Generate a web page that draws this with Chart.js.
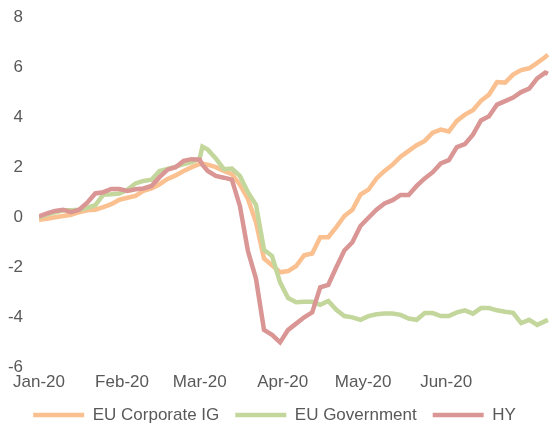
<!DOCTYPE html>
<html>
<head>
<meta charset="utf-8">
<script src="https://cdn.jsdelivr.net/npm/chart.js@4.4.1/dist/chart.umd.min.js"></script>
<style>
  html, body { margin: 0; padding: 0; background: #fff; }
  #wrap { position: relative; width: 549px; height: 423px; }
</style>
</head>
<body>
<div id="wrap"><canvas id="chart"></canvas></div>
<script>
// days since 1 Jan 2020
const days = [0, 3, 6, 9, 12, 15, 18, 21, 24, 27, 30, 33, 36, 39, 42, 45, 48, 51, 54, 57, 60, 61,
  63, 66, 69, 72, 75, 78, 81, 84, 87, 90, 93, 96, 99, 102, 105, 108, 111, 114, 117, 120, 123, 126,
  129, 132, 135, 138, 141, 144, 147, 150, 153, 156, 159, 162, 165, 168, 171, 174, 177, 180, 183,
  186, 189, 190];

const corpIG = [-0.1, -0.06, 0.0, 0.05, 0.1, 0.2, 0.28, 0.3, 0.4, 0.52, 0.7, 0.78, 0.85, 1.05, 1.15,
  1.32, 1.53, 1.67, 1.85, 2.0, 2.13, 2.14,
  2.1, 2.0, 1.85, 1.72, 1.3, 0.73, -0.2, -1.65, -1.92, -2.2, -2.15, -1.95, -1.52, -1.45, -0.8, -0.8,
  -0.4, 0.05, 0.3, 0.9, 1.1, 1.55, 1.85, 2.1, 2.42, 2.65, 2.88, 3.05, 3.38, 3.5, 3.43, 3.85, 4.1,
  4.28, 4.65, 4.9, 5.4, 5.38, 5.7, 5.88, 5.95, 6.17, 6.4, 6.5];

const govt = [0.0, 0.1, 0.2, 0.28, 0.28, 0.3, 0.38, 0.48, 0.9, 0.92, 0.95, 1.1, 1.35, 1.45, 1.5,
  1.85, 1.93, 2.02, 2.12, 2.2, 2.35, 2.82,
  2.7, 2.35, 1.92, 1.94, 1.65, 1.0, 0.5, -1.3, -1.55, -2.6, -3.23, -3.4, -3.38, -3.38, -3.5, -3.35,
  -3.7, -3.95, -4.0, -4.1, -3.95, -3.88, -3.85, -3.85, -3.9, -4.05, -4.1, -3.83, -3.83, -3.95, -3.95,
  -3.8, -3.72, -3.85, -3.63, -3.63, -3.72, -3.78, -3.82, -4.23, -4.1, -4.3, -4.15, -4.1];

const hy = [0.03, 0.15, 0.25, 0.3, 0.2, 0.3, 0.58, 0.95, 1.0, 1.13, 1.13, 1.05, 1.12, 1.15, 1.25,
  1.6, 1.9, 2.0, 2.25, 2.32, 2.3, 2.1,
  1.85, 1.65, 1.58, 1.5, 0.45, -1.35, -2.45, -4.5, -4.7, -5.0, -4.5, -4.25, -4.0, -3.8, -2.8, -2.7,
  -2.0, -1.33, -1.0, -0.35, -0.02, 0.3, 0.55, 0.68, 0.89, 0.89, 1.25, 1.55, 1.8, 2.15, 2.28, 2.8,
  2.92, 3.3, 3.87, 4.03, 4.5, 4.64, 4.78, 5.0, 5.14, 5.55, 5.78, 5.73];

const monthStarts = [0, 31, 60, 91, 121, 152];
const monthLabels = ['Jan-20', 'Feb-20', 'Mar-20', 'Apr-20', 'May-20', 'Jun-20'];
const yTicks = [-6, -4, -2, 0, 2, 4, 6, 8];

const textColor = '#595959';
const font = { family: 'Liberation Sans, Arial, sans-serif', size: 17 };

function series(label, values, color, order) {
  return {
    label: label,
    data: days.map((d, i) => ({ x: d, y: values[i] })),
    borderColor: color,
    backgroundColor: color,
    borderWidth: 4.5,
    pointRadius: 0,
    tension: 0,
    order: order
  };
}

new Chart(document.getElementById('chart'), {
  type: 'line',
  data: {
    datasets: [
      series('EU Corporate IG', corpIG, '#FAC090', 3),
      series('EU Government', govt, '#C3D69B', 2),
      series('HY', hy, '#D99694', 1)
    ]
  },
  options: {
    responsive: true,
    maintainAspectRatio: false,
    animation: false,
    layout: { padding: { top: 17, right: 0, left: 0, bottom: -10.4 } },
    plugins: {
      tooltip: { enabled: false },
      legend: {
        position: 'bottom',
        labels: {
          color: textColor,
          font: font,
          usePointStyle: true,
          pointStyle: 'line',
          pointStyleWidth: 51,
          padding: 16,
          sort: (a, b) => a.datasetIndex - b.datasetIndex
        }
      }
    },
    scales: {
      x: {
        type: 'linear',
        min: 0,
        max: 190.4,
        grid: { display: false, drawTicks: false },
        border: { display: false },
        afterFit: axis => { axis.height = 23; },
        afterBuildTicks: axis => { axis.ticks = monthStarts.map(v => ({ value: v })); },
        ticks: {
          color: textColor,
          font: font,
          autoSkip: false,
          maxRotation: 0,
          padding: 5,
          callback: v => monthLabels[monthStarts.indexOf(v)]
        }
      },
      y: {
        min: -6,
        max: 8,
        grid: { display: false, drawTicks: false },
        border: { display: false },
        afterFit: axis => {
          axis.width = 39;
          axis.paddingTop = 0;
          axis.paddingBottom = 0;
        },
        afterBuildTicks: axis => { axis.ticks = yTicks.map(v => ({ value: v })); },
        ticks: { color: textColor, font: font, padding: 16 }
      }
    }
  }
});
</script>
</body>
</html>
